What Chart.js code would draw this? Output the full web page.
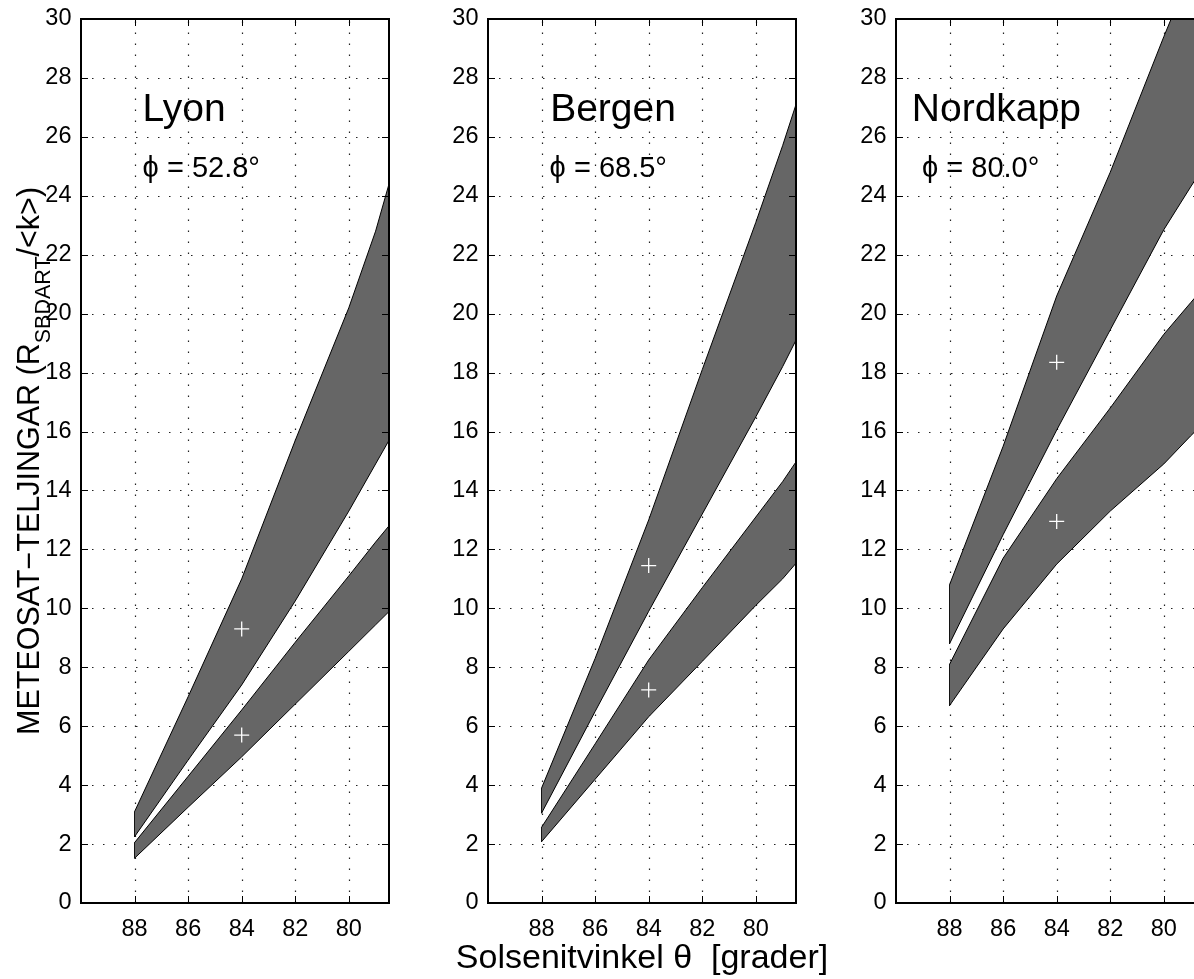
<!DOCTYPE html>
<html>
<head>
<meta charset="utf-8">
<script src="https://cdn.jsdelivr.net/npm/chart.js@4.4.1/dist/chart.umd.min.js"></script>
<style>
  html, body { margin: 0; padding: 0; background: #fff; width: 1194px; height: 979px; overflow: hidden; }
  canvas { position: absolute; top: 0; }
</style>
</head>
<body>
<canvas id="c0" width="401" height="979" style="left:0px"></canvas>
<canvas id="c1" width="520" height="979" style="left:407px"></canvas>
<canvas id="c2" width="401" height="979" style="left:815px"></canvas>
<script>
// Solar zenith angle (degrees) and tick values
const thetaTicks = [88, 86, 84, 82, 80];
const valueTicks = [0, 2, 4, 6, 8, 10, 12, 14, 16, 18, 20, 22, 24, 26, 28, 30];
const bandTheta = [88, 86, 84, 82, 80, 79, 78.5];
const markerTheta = [84, 84];

const stations = ['Lyon', 'Bergen', 'Nordkapp'];
const latitudes = ['52.8', '68.5', '80.0'];

// Lyon: upper band (high/low edge), lower band (high/low edge), band centres at 84°
const lyonUpperHigh = [3.1, 7.0, 11.0, 15.7, 20.2, 22.8, 24.4];
const lyonUpperLow  = [2.25, 4.85, 7.4, 10.25, 13.3, 14.9, 15.7];
const lyonLowerHigh = [2.05, 4.3, 6.55, 8.85, 11.1, 12.25, 12.8];
const lyonLowerLow  = [1.52, 3.25, 4.96, 6.75, 8.54, 9.44, 9.89];
const lyonMarks = [9.3, 5.7];

// Bergen
const bergenUpperHigh = [3.9, 8.3, 13.0, 18.1, 23.1, 25.7, 27.1];
const bergenUpperLow  = [3.05, 6.5, 9.9, 13.2, 16.5, 18.2, 19.1];
const bergenLowerHigh = [2.57, 5.4, 8.25, 10.7, 13.1, 14.3, 14.97];
const bergenLowerLow  = [2.08, 4.2, 6.32, 8.2, 10.1, 11.0, 11.53];
const bergenMarks = [11.45, 7.23];

// Nordkapp
const nordkappUpperHigh = [10.8, 15.5, 20.6, 24.8, 29.4, 31.6, 32.7];
const nordkappUpperLow  = [8.8, 12.5, 16.05, 19.45, 22.85, 24.3, 25.0];
const nordkappLowerHigh = [8.1, 11.7, 14.4, 16.8, 19.3, 20.37, 20.9];
const nordkappLowerLow  = [6.7, 9.3, 11.5, 13.3, 14.9, 15.85, 16.3];
const nordkappMarks = [18.35, 12.95];

const FONT = "'Liberation Sans', Arial, Helvetica, sans-serif";
const BAND_FILL = '#666666';

const panels = [
  { upHi: lyonUpperHigh, upLo: lyonUpperLow, loHi: lyonLowerHigh, loLo: lyonLowerLow, marks: lyonMarks,
    nameAt: [87.7, 26.55], phiAt: [87.7, 24.65], padRight: 12 },
  { upHi: bergenUpperHigh, upLo: bergenUpperLow, loHi: bergenLowerHigh, loLo: bergenLowerLow, marks: bergenMarks,
    nameAt: [87.68, 26.55], phiAt: [87.7, 24.65], padRight: 131 },
  { upHi: nordkappUpperHigh, upLo: nordkappUpperLow, loHi: nordkappLowerHigh, loLo: nordkappLowerLow, marks: nordkappMarks,
    nameAt: [89.41, 26.55], phiAt: [89.03, 24.65], padRight: 12 }
];

const toPoints = (xs, ys) => xs.map((x, i) => ({ x, y: ys[i] }));

function edgeLine(data) {
  return { data, borderColor: '#000', borderWidth: 1, pointRadius: 0, fill: false, tension: 0 };
}

// Dotted grid underneath, box with inward ticks and annotations on top
const framePlugin = {
  id: 'frame',
  beforeDatasetsDraw(chart) {
    const { ctx, chartArea: a, scales: { x, y } } = chart;
    ctx.save();
    ctx.strokeStyle = '#222';
    ctx.lineWidth = 1.2;
    ctx.setLineDash([1.5, 9.5]);
    thetaTicks.forEach(v => {
      const px = Math.round(x.getPixelForValue(v)) + 0.5;
      ctx.beginPath(); ctx.moveTo(px, a.bottom); ctx.lineTo(px, a.top); ctx.stroke();
    });
    valueTicks.forEach(v => {
      if (v <= y.min || v >= y.max) return;
      const py = Math.round(y.getPixelForValue(v)) + 0.5;
      ctx.beginPath(); ctx.moveTo(a.left, py); ctx.lineTo(a.right, py); ctx.stroke();
    });
    ctx.restore();
  },
  afterDraw(chart) {
    const { ctx, chartArea: a, scales: { x, y } } = chart;
    const p = chart.options.plugins.frame;
    ctx.save();
    // inward tick marks on all four sides
    ctx.strokeStyle = '#000';
    ctx.lineWidth = 1;
    const tl = 7;
    thetaTicks.forEach(v => {
      const px = Math.round(x.getPixelForValue(v)) + 0.5;
      ctx.beginPath();
      ctx.moveTo(px, a.bottom); ctx.lineTo(px, a.bottom - tl);
      ctx.moveTo(px, a.top); ctx.lineTo(px, a.top + tl);
      ctx.stroke();
    });
    valueTicks.forEach(v => {
      const py = Math.round(y.getPixelForValue(v)) + 0.5;
      ctx.beginPath();
      ctx.moveTo(a.left, py); ctx.lineTo(a.left + tl, py);
      ctx.moveTo(a.right, py); ctx.lineTo(a.right - tl, py);
      ctx.stroke();
    });
    // axes box
    ctx.lineWidth = 2;
    ctx.strokeRect(a.left, a.top, a.right - a.left, a.bottom - a.top);

    // station name and latitude
    ctx.fillStyle = '#000';
    ctx.textAlign = 'left';
    ctx.textBaseline = 'alphabetic';
    ctx.font = '39px ' + FONT;
    ctx.fillText(p.name, x.getPixelForValue(p.nameAt[0]), y.getPixelForValue(p.nameAt[1]));
    ctx.font = '29px ' + FONT;
    ctx.fillText('\u03D5 = ' + p.lat + '\u00B0', x.getPixelForValue(p.phiAt[0]), y.getPixelForValue(p.phiAt[1]));

    if (p.xTitle) {
      ctx.font = '34px ' + FONT;
      ctx.textAlign = 'center';
      ctx.fillText(p.xTitle, (a.left + a.right) / 2, 968);
    }
    if (p.yTitle) {
      ctx.translate(39, 735);
      ctx.rotate(-Math.PI / 2);
      ctx.textAlign = 'left';
      ctx.font = '30.5px ' + FONT;
      ctx.fillText(p.yTitle[0], 0, 0);
      let off = ctx.measureText(p.yTitle[0]).width;
      ctx.font = '21.5px ' + FONT;
      ctx.fillText(p.yTitle[1], off, 11);
      off += ctx.measureText(p.yTitle[1]).width;
      ctx.font = '30.5px ' + FONT;
      ctx.fillText(p.yTitle[2], off, 0);
    }
    ctx.restore();
  }
};

panels.forEach((p, i) => {
  const datasets = [
    { type: 'line', data: toPoints(markerTheta, p.marks), showLine: false, order: -1,
      pointStyle: 'cross', pointRadius: 7.5, pointBorderColor: '#fff', pointBorderWidth: 1.3,
      borderColor: '#fff', backgroundColor: '#fff' },
    edgeLine(toPoints(bandTheta, p.upHi)),
    Object.assign(edgeLine(toPoints(bandTheta, p.upLo)), { fill: '-1', backgroundColor: BAND_FILL }),
    edgeLine(toPoints(bandTheta, p.loHi)),
    Object.assign(edgeLine(toPoints(bandTheta, p.loLo)), { fill: '-1', backgroundColor: BAND_FILL }),
    edgeLine([{ x: bandTheta[0], y: p.upHi[0] }, { x: bandTheta[0], y: p.upLo[0] }]),
    edgeLine([{ x: bandTheta[0], y: p.loHi[0] }, { x: bandTheta[0], y: p.loLo[0] }])
  ];

  new Chart(document.getElementById('c' + i), {
    type: 'line',
    data: { datasets },
    plugins: [framePlugin],
    options: {
      responsive: false,
      animation: false,
      devicePixelRatio: 1,
      events: [],
      layout: { padding: { top: 19, right: p.padRight, left: 0, bottom: 0 } },
      plugins: {
        legend: { display: false },
        tooltip: { enabled: false },
        frame: {
          name: stations[i],
          lat: latitudes[i],
          nameAt: p.nameAt,
          phiAt: p.phiAt,
          xTitle: i === 1 ? 'Solsenitvinkel \u03B8  [grader]' : null,
          yTitle: i === 0 ? ['METEOSAT\u2212TELJINGAR (R', 'SBDART', '/<k>)'] : null
        }
      },
      scales: {
        x: {
          type: 'linear', min: 78.5, max: 90, reverse: true,
          grid: { display: false, drawTicks: false }, border: { display: false },
          afterBuildTicks: s => { s.ticks = thetaTicks.map(v => ({ value: v })); },
          afterFit: s => { s.height = 76; },
          ticks: { color: '#000', font: { family: FONT, size: 23.5 }, padding: 12, maxRotation: 0, autoSkip: false }
        },
        y: {
          type: 'linear', min: 0, max: 30,
          grid: { display: false, drawTicks: false }, border: { display: false },
          afterBuildTicks: s => { s.ticks = valueTicks.map(v => ({ value: v })); },
          afterFit: s => { s.width = 81; },
          ticks: { color: '#000', font: { family: FONT, size: 23.5, lineHeight: 0.5 }, padding: 9.5, autoSkip: false }
        }
      }
    }
  });
});
</script>
</body>
</html>
